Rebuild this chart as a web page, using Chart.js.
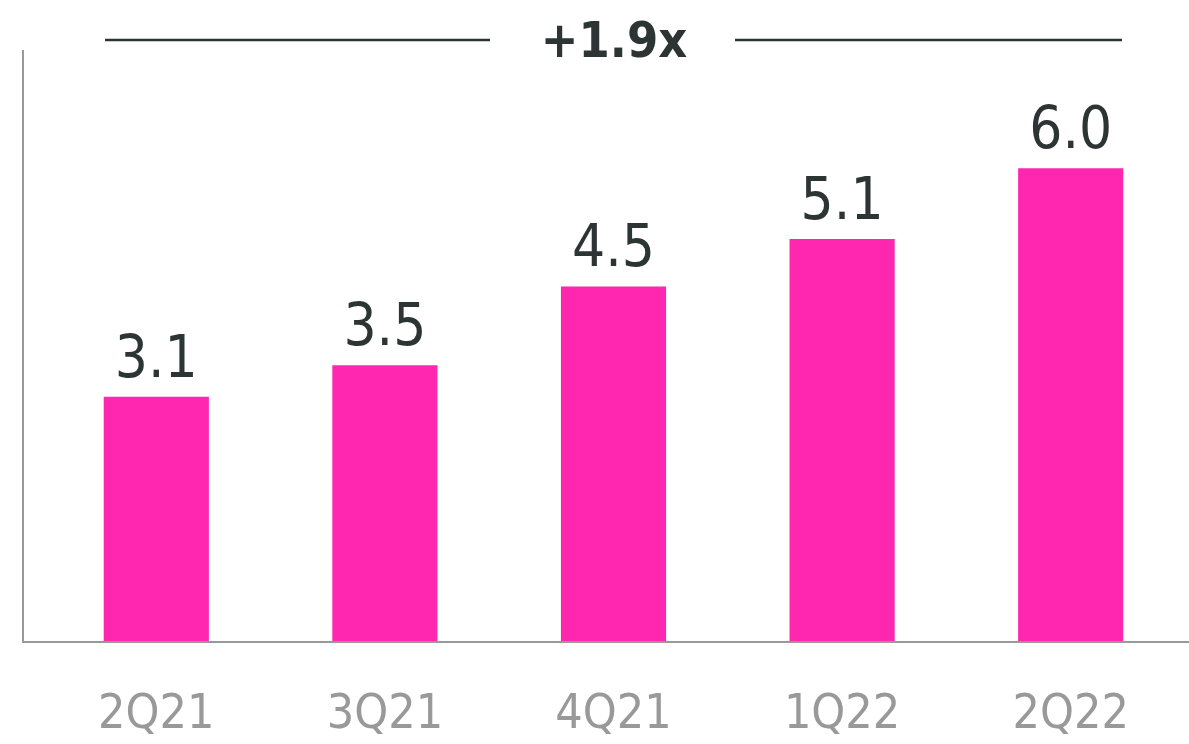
<!DOCTYPE html>
<html>
<head>
<meta charset="utf-8">
<script src="https://cdn.jsdelivr.net/npm/chart.js@4"></script>
<style>
    body { margin: 0; background: #fff; }
    #wrap { width: 1189px; height: 744px; position: relative; }
</style>
</head>
<body>
<div id="wrap"><canvas id="chart"></canvas></div>
<script>
const quarters = ["2Q21", "3Q21", "4Q21", "1Q22", "2Q22"];
const values = [3.1, 3.5, 4.5, 5.1, 6.0];
const growthLabel = "+1.9x";

const FONT = "'DejaVu Sans Condensed', 'Liberation Sans Narrow', Roboto, sans-serif";
const DARK = "#2d3434";
const GREY = "#999999";

// axis lines, value labels and the growth bracket on top
const overlay = {
    id: "overlay",
    afterDraw(chart) {
        const ctx = chart.ctx;
        const area = chart.chartArea;
        ctx.save();

        ctx.strokeStyle = GREY;
        ctx.lineWidth = 2;
        ctx.beginPath();
        ctx.moveTo(23, area.top);
        ctx.lineTo(23, area.bottom + 1);
        ctx.lineTo(chart.width, area.bottom + 1);
        ctx.stroke();

        ctx.fillStyle = DARK;
        ctx.textAlign = "center";
        ctx.textBaseline = "alphabetic";
        ctx.font = "58px " + FONT;
        chart.getDatasetMeta(0).data.forEach((bar, i) => {
            ctx.fillText(values[i].toFixed(1), bar.x, bar.y - 20);
        });

        ctx.font = "bold 50px " + FONT;
        ctx.fillText(growthLabel, 614, 57);

        ctx.strokeStyle = DARK;
        ctx.lineWidth = 2.5;
        ctx.beginPath();
        ctx.moveTo(105, 40);
        ctx.lineTo(490, 40);
        ctx.moveTo(735, 40);
        ctx.lineTo(1122, 40);
        ctx.stroke();

        ctx.restore();
    }
};

new Chart(document.getElementById("chart"), {
    type: "bar",
    data: {
        labels: quarters,
        datasets: [
            {
                data: values,
                backgroundColor: "#ff26b0",
                barPercentage: 0.46,
                categoryPercentage: 1,
            },
        ],
    },
    options: {
        responsive: true,
        maintainAspectRatio: false,
        animation: false,
        layout: {
            padding: { top: 50, left: 42, right: 4, bottom: 0 },
        },
        plugins: {
            legend: { display: false },
            tooltip: { enabled: false },
        },
        scales: {
            x: {
                grid: { display: false, drawTicks: false },
                border: { display: false },
                ticks: {
                    color: GREY,
                    padding: 46,
                    font: { size: 48, family: FONT },
                },
                afterFit(scale) {
                    scale.height = 103;
                },
            },
            y: {
                display: false,
                min: 0,
                max: 7.5,
            },
        },
    },
    plugins: [overlay],
});
</script>
</body>
</html>
